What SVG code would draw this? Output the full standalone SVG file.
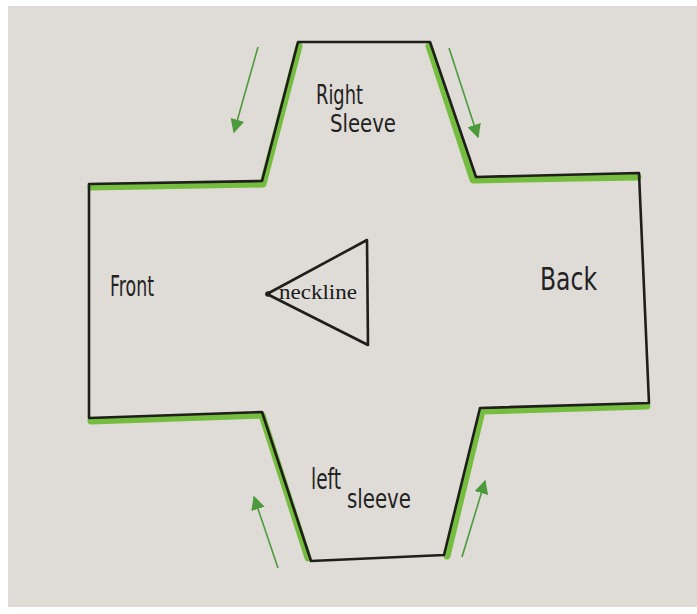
<svg xmlns="http://www.w3.org/2000/svg" width="697" height="614" viewBox="0 0 697 614">
<defs>
<style>
.ink{fill:none;stroke:#1e1e1a;stroke-width:2.6;stroke-linejoin:round;stroke-linecap:round}
.hl{fill:none;stroke:#74bd3e;stroke-width:7;stroke-linecap:round;stroke-linejoin:round}
.arr{fill:none;stroke:#4c9a3c;stroke-width:1.6}
.hand{font-family:"DejaVu Sans","Liberation Sans",sans-serif;fill:#222;}
.serif{font-family:"Liberation Serif","Times New Roman",serif;fill:#1a1a1a;}
</style>
<marker id="ahb" viewBox="0 0 10 10" refX="9" refY="5" markerWidth="14" markerHeight="14" markerUnits="userSpaceOnUse" orient="auto">
<path d="M0,0 L10,5 L0,10 Z" fill="#4c9a3c"/>
</marker>
</defs>
<rect x="0" y="0" width="697" height="614" fill="#ffffff"/>
<rect x="8" y="6" width="689" height="601" fill="#dfdbd6"/>

<g id="pattern">
<g id="highlights">
<path class="hl" d="M91,187 L263,184 L299,46"/>
<path class="hl" d="M429,46 L473,180 L638,177"/>
<path class="hl" d="M647,406 L482,411 L447,556"/>
<path class="hl" d="M308,558 L262,415 L91,421"/>
</g>
<path class="ink" d="M89,184 L262,181 L298,42 L430,42 L476,177 L639,173 L649,403 L480,408 L444,555 L311,561 L262,412 L89,418 Z"/>
</g>

<g id="neckline">
<path class="ink" d="M267,294 L367,240 L368,345 Z"/>
<circle cx="268" cy="294" r="2.8" fill="#1e1e1a"/>
<text class="serif" x="279" y="299" font-size="22" textLength="78" lengthAdjust="spacingAndGlyphs">neckline</text>
</g>

<g id="connectors">
<line class="arr" x1="258" y1="47" x2="234" y2="132" marker-end="url(#ahb)"/>
<line class="arr" x1="449" y1="48" x2="478" y2="137" marker-end="url(#ahb)"/>
<line class="arr" x1="278" y1="568" x2="254" y2="497" marker-end="url(#ahb)"/>
<line class="arr" x1="462" y1="557" x2="485" y2="481" marker-end="url(#ahb)"/>
</g>

<g id="right-sleeve">
<text class="hand" x="316" y="104" font-size="27" textLength="47" lengthAdjust="spacingAndGlyphs">Right</text>
<text class="hand" x="330" y="132" font-size="25" textLength="66" lengthAdjust="spacingAndGlyphs">Sleeve</text>
</g>
<g id="front">
<text class="hand" x="110" y="296" font-size="29" textLength="44" lengthAdjust="spacingAndGlyphs">Front</text>
</g>
<g id="back">
<text class="hand" x="540" y="290" font-size="32" textLength="57" lengthAdjust="spacingAndGlyphs">Back</text>
</g>
<g id="left-sleeve">
<text class="hand" x="311" y="489" font-size="28" textLength="30" lengthAdjust="spacingAndGlyphs">left</text>
<text class="hand" x="347" y="508" font-size="26" textLength="64" lengthAdjust="spacingAndGlyphs">sleeve</text>
</g>
</svg>
